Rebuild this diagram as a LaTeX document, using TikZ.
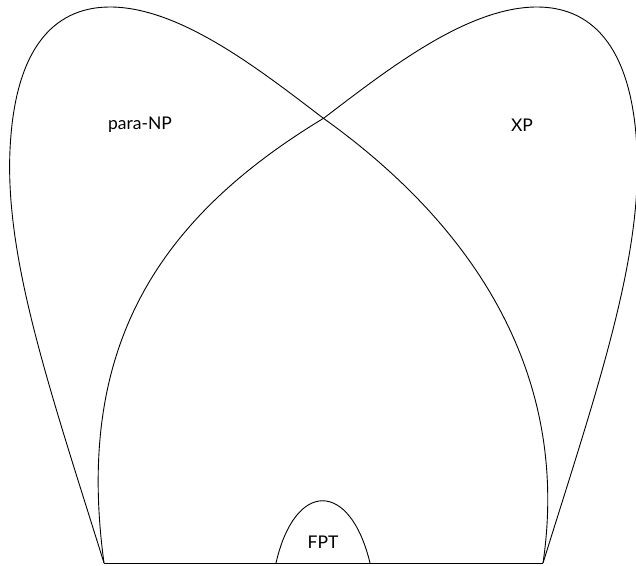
\documentclass[tikz,border=0pt]{standalone}
\usepackage{fontspec}
\setmainfont{Lato}
\begin{document}
\begin{tikzpicture}[x=1pt,y=-1pt,line width=0.9pt,
  setline/.style={draw=black,line join=round},
  lbl/.style={font=\fontsize{17.5}{20}\selectfont,inner sep=0pt}]
\useasboundingbox (0,0) rectangle (636,565);
% para-NP region
\draw[setline] (104,563) .. controls (50,390) and (5,260) .. (10,150)
  .. controls (15,40) and (60,7) .. (110,7)
  .. controls (180,7) and (260,70) .. (323,118)
  .. controls (480,230) and (570,380) .. (543,563);
% XP region
\draw[setline] (543,563) .. controls (597,390) and (642,260) .. (637,150)
  .. controls (632,40) and (587,7) .. (537,7)
  .. controls (467,7) and (387,70) .. (324,118)
  .. controls (155,220) and (75,350) .. (104,563);
% base line
\draw[setline] (104,563) -- (543,563);
% FPT
\draw[setline] (276,563) .. controls (295,480) and (350,480) .. (370,563);
\node[lbl] (paranp) at (140,125) {para-NP};
\node[lbl] (xp) at (522,125) {XP};
\node[lbl] (fpt) at (323,542) {FPT};
\end{tikzpicture}
\end{document}
